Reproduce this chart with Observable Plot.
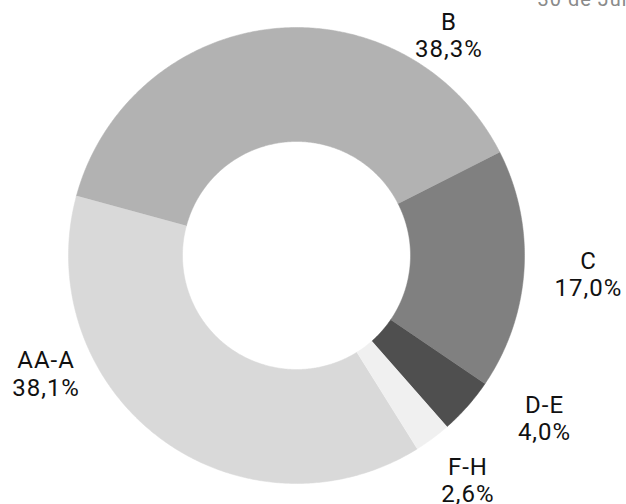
<!DOCTYPE html>
<html>
<head>
<meta charset="utf-8">
<script src="https://cdn.jsdelivr.net/npm/d3@7"></script>
<script src="https://cdn.jsdelivr.net/npm/@observablehq/plot@0.6"></script>
<style>
  html, body { margin: 0; padding: 0; background: #fff; }
  #chart { width: 626px; height: 504px; overflow: hidden; }
</style>
</head>
<body>
<div id="chart"></div>
<script>
// ---- data ----
const categories = ["AA-A", "B", "C", "D-E", "F-H"];
const shares = [38.1, 38.3, 17.0, 4.0, 2.6];
const sliceColors = ["#d9d9d9", "#b2b2b2", "#808080", "#4f4f4f", "#f0f0f0"];
const dateText = "30 de Junho";

// ---- layout (not data) ----
const W = 626, H = 504;
const cx = 296, cy = 255, R = 228;       // donut centre and outer radius (px)
const holeRatio = 0.5;                    // inner radius / outer radius
const firstSliceAngle = 148;              // degrees, clockwise from 12 o'clock
const labelAngles = [244.8, 34.6, 93.6, 123.2, 142.6];   // label anchor angle
const labelRadii  = [1.214, 1.177, 1.283, 1.300, 1.238];  // label anchor radius (× outer)

// ---- build slice polygons from the shares ----
const total = d3.sum(shares);
const rad = (deg) => deg * Math.PI / 180;
const polyPoints = [];
let a = firstSliceAngle;
shares.forEach((v, i) => {
  const a0 = a, a1 = a + v / total * 360;
  const n = Math.max(2, Math.ceil((a1 - a0) / 0.5));
  for (let k = 0; k <= n; k++) {
    const t = rad(a0 + (a1 - a0) * k / n);
    polyPoints.push({cat: categories[i], x: Math.sin(t), y: Math.cos(t)});
  }
  for (let k = n; k >= 0; k--) {
    const t = rad(a0 + (a1 - a0) * k / n);
    polyPoints.push({cat: categories[i], x: holeRatio * Math.sin(t), y: holeRatio * Math.cos(t)});
  }
  a = a1;
});

const fmt = (v) => v.toFixed(1).replace(".", ",") + "%";
const labels = categories.map((c, i) => ({
  text: c + "\n" + fmt(shares[i]),
  x: labelRadii[i] * Math.sin(rad(labelAngles[i])),
  y: labelRadii[i] * Math.cos(rad(labelAngles[i]))
}));

const chart = Plot.plot({
  width: W,
  height: H,
  margin: 0,
  style: {fontFamily: "Roboto", background: "#fff", overflow: "hidden", letterSpacing: "1px"},
  x: {type: "linear", domain: [-1, 1], range: [cx - R, cx + R], axis: null},
  y: {type: "linear", domain: [-1, 1], range: [cy + R, cy - R], axis: null},
  color: {domain: categories, range: sliceColors},
  marks: [
    Plot.line(polyPoints, {
      x: "x", y: "y", z: "cat",
      fill: "cat", stroke: "cat", strokeWidth: 0.5,
      curve: "linear"
    }),
    Plot.text(labels, {
      x: "x", y: "y", text: "text",
      fontSize: 24, fill: "#111",
      lineHeight: 1.146, lineAnchor: "middle", textAnchor: "middle"
    }),
    Plot.text([dateText], {
      frameAnchor: "top-left", dx: 537, dy: 5,
      textAnchor: "start", lineAnchor: "bottom",
      fontSize: 20, fill: "#8a8a8a"
    })
  ]
});
document.getElementById("chart").appendChild(chart);
</script>
</body>
</html>
